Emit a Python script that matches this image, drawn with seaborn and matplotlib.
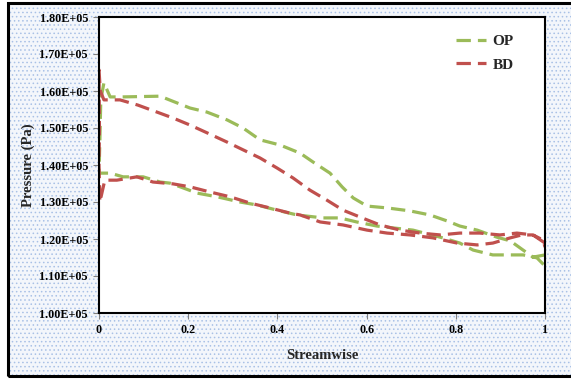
import numpy as np
import pandas as pd
import matplotlib
matplotlib.use("Agg")
import matplotlib.pyplot as plt
import seaborn as sns
from matplotlib.patches import Rectangle
from matplotlib.lines import Line2D

# ---------------- data ----------------
# OP: ordered around the surface: upper side from x=1 to x=0, then lower side back to x=1
op_x = [1.0, 0.973, 0.951, 0.922, 0.892, 0.848, 0.809, 0.780, 0.742, 0.697, 0.646, 0.601,
        0.570, 0.545, 0.518, 0.480, 0.451, 0.406, 0.361, 0.323, 0.287, 0.242, 0.204, 0.164,
        0.137, 0.052, 0.025, 0.011, 0.004, 0.002, 0.0,
        0.004, 0.025, 0.054, 0.099, 0.137, 0.159, 0.182, 0.220, 0.265, 0.316, 0.354, 0.399,
        0.444, 0.502, 0.540, 0.578, 0.623, 0.659, 0.704, 0.771, 0.809, 0.839, 0.883, 0.922,
        0.951, 0.982, 1.0]
op_p = [1.157, 1.151, 1.170, 1.195, 1.205, 1.224, 1.235, 1.249, 1.265, 1.276, 1.284, 1.289,
        1.311, 1.341, 1.378, 1.408, 1.432, 1.454, 1.468, 1.500, 1.522, 1.543, 1.554, 1.573,
        1.586, 1.584, 1.584, 1.622, 1.576, 1.468, 1.376,
        1.378, 1.378, 1.368, 1.368, 1.354, 1.351, 1.341, 1.324, 1.314, 1.300, 1.292, 1.278,
        1.265, 1.257, 1.257, 1.246, 1.235, 1.230, 1.224, 1.203, 1.189, 1.170, 1.157, 1.157,
        1.157, 1.149, 1.127]

bd_x = [1.0, 0.973, 0.937, 0.899, 0.854, 0.809, 0.765, 0.720, 0.675, 0.630, 0.590, 0.547,
        0.511, 0.473, 0.435, 0.399, 0.361, 0.323, 0.287, 0.244, 0.204, 0.166, 0.130, 0.087,
        0.047, 0.011, 0.003, 0.0, 0.001, 0.0, 0.002,
        0.013, 0.040, 0.085, 0.121, 0.166, 0.204, 0.249, 0.294, 0.339, 0.383, 0.428, 0.451,
        0.496, 0.547, 0.601, 0.646, 0.697, 0.749, 0.803, 0.848, 0.883, 0.922, 0.948, 0.973,
        0.996, 1.0]
bd_p = [1.189, 1.211, 1.216, 1.211, 1.216, 1.216, 1.211, 1.216, 1.224, 1.238, 1.257, 1.278,
        1.305, 1.332, 1.365, 1.392, 1.419, 1.441, 1.462, 1.486, 1.508, 1.527, 1.543, 1.562,
        1.576, 1.576, 1.600, 1.657, 1.500, 1.400, 1.300,
        1.359, 1.359, 1.368, 1.354, 1.349, 1.341, 1.327, 1.314, 1.297, 1.284, 1.270, 1.265,
        1.246, 1.238, 1.224, 1.216, 1.211, 1.203, 1.189, 1.184, 1.189, 1.203, 1.211, 1.211,
        1.197, 1.178]

series_names = ["OP", "BD"]
y_ticks = [1.00e5, 1.10e5, 1.20e5, 1.30e5, 1.40e5, 1.50e5, 1.60e5, 1.70e5, 1.80e5]
x_ticks = [0, 0.2, 0.4, 0.6, 0.8, 1]
x_tick_labels = ["0", "0.2", "0.4", "0.6", "0.8", "1"]

# ---------------- build table ----------------
frames = []
for name, xs, ps in [("OP", op_x, op_p), ("BD", bd_x, bd_p)]:
    frames.append(pd.DataFrame({"Streamwise": xs,
                                "Pressure": np.array(ps) * 1e5,
                                "series": name}))
df = pd.concat(frames, ignore_index=True)

# ---------------- style ----------------
sns.set_theme(style="white")
plt.rcParams["font.family"] = ["Liberation Serif", "DejaVu Serif"]
plt.rcParams["hatch.linewidth"] = 0.6

fig = plt.figure(figsize=(5.71, 3.79), dpi=100)
fig.patch.set_facecolor("white")

# dotted background of the chart area with a border
bg = Rectangle((8 / 571, 1 - 376 / 379), 1.2, (376 - 3) / 379, transform=fig.transFigure,
               facecolor="#F3F6FB", edgecolor="#A9C1E6", hatch="....", linewidth=0,
               zorder=-10)
fig.patches.append(bg)
border = Rectangle((8 / 571, 1 - 376 / 379), 1.2, (376 - 3) / 379, transform=fig.transFigure,
                   facecolor="none", edgecolor="black", linewidth=2.2, zorder=-5)
fig.patches.append(border)

ax = fig.add_axes([99 / 571, 1 - 313 / 379, (545 - 99) / 571, (313 - 17) / 379])
ax.set_zorder(1)
ax.set_facecolor("white")

palette = {"OP": "#9BBB59", "BD": "#C0504D"}
dash = (4.5, 2.2)
sns.lineplot(data=df, x="Streamwise", y="Pressure", hue="series", style="series",
             hue_order=series_names, style_order=series_names,
             palette=palette, dashes={"OP": dash, "BD": dash},
             sort=False, estimator=None, units="series", linewidth=2.3, ax=ax, legend=False)

ax.set_xlim(0, 1)
ax.set_ylim(1.0e5, 1.8e5)
ax.set_xticks(x_ticks)
ax.set_xticklabels(x_tick_labels)
ax.set_yticks(y_ticks)
ax.set_yticklabels([f"{v / 1e5:.2f}E+05" for v in y_ticks])

for lbl in ax.get_xticklabels() + ax.get_yticklabels():
    lbl.set_fontweight("bold")
    lbl.set_fontsize(8.7)
    lbl.set_color("black")

ax.tick_params(axis="both", which="major", direction="out", length=4, width=0.8,
               color="#808080", bottom=True, left=True, pad=4)

for s in ax.spines.values():
    s.set_color("black")
    s.set_linewidth(1.5)
    s.set_visible(True)

ax.set_xlabel("Streamwise", fontsize=10.5, fontweight="bold", labelpad=9)
ax.set_ylabel("Pressure (Pa)", fontsize=10.5, fontweight="bold", labelpad=3.5)

handles = [Line2D([0], [0], color=palette[n], lw=2.3, dashes=dash) for n in series_names]
ax.legend(handles, series_names, loc="upper left",
          bbox_to_anchor=((442 - 99) / 446, 1 - (21 - 17) / 296),
          frameon=False, handlelength=2.0, handletextpad=0.4, labelspacing=0.62,
          prop={"family": ["Liberation Serif"], "weight": "bold", "size": 11})

fig.savefig("out.png", dpi=100)
